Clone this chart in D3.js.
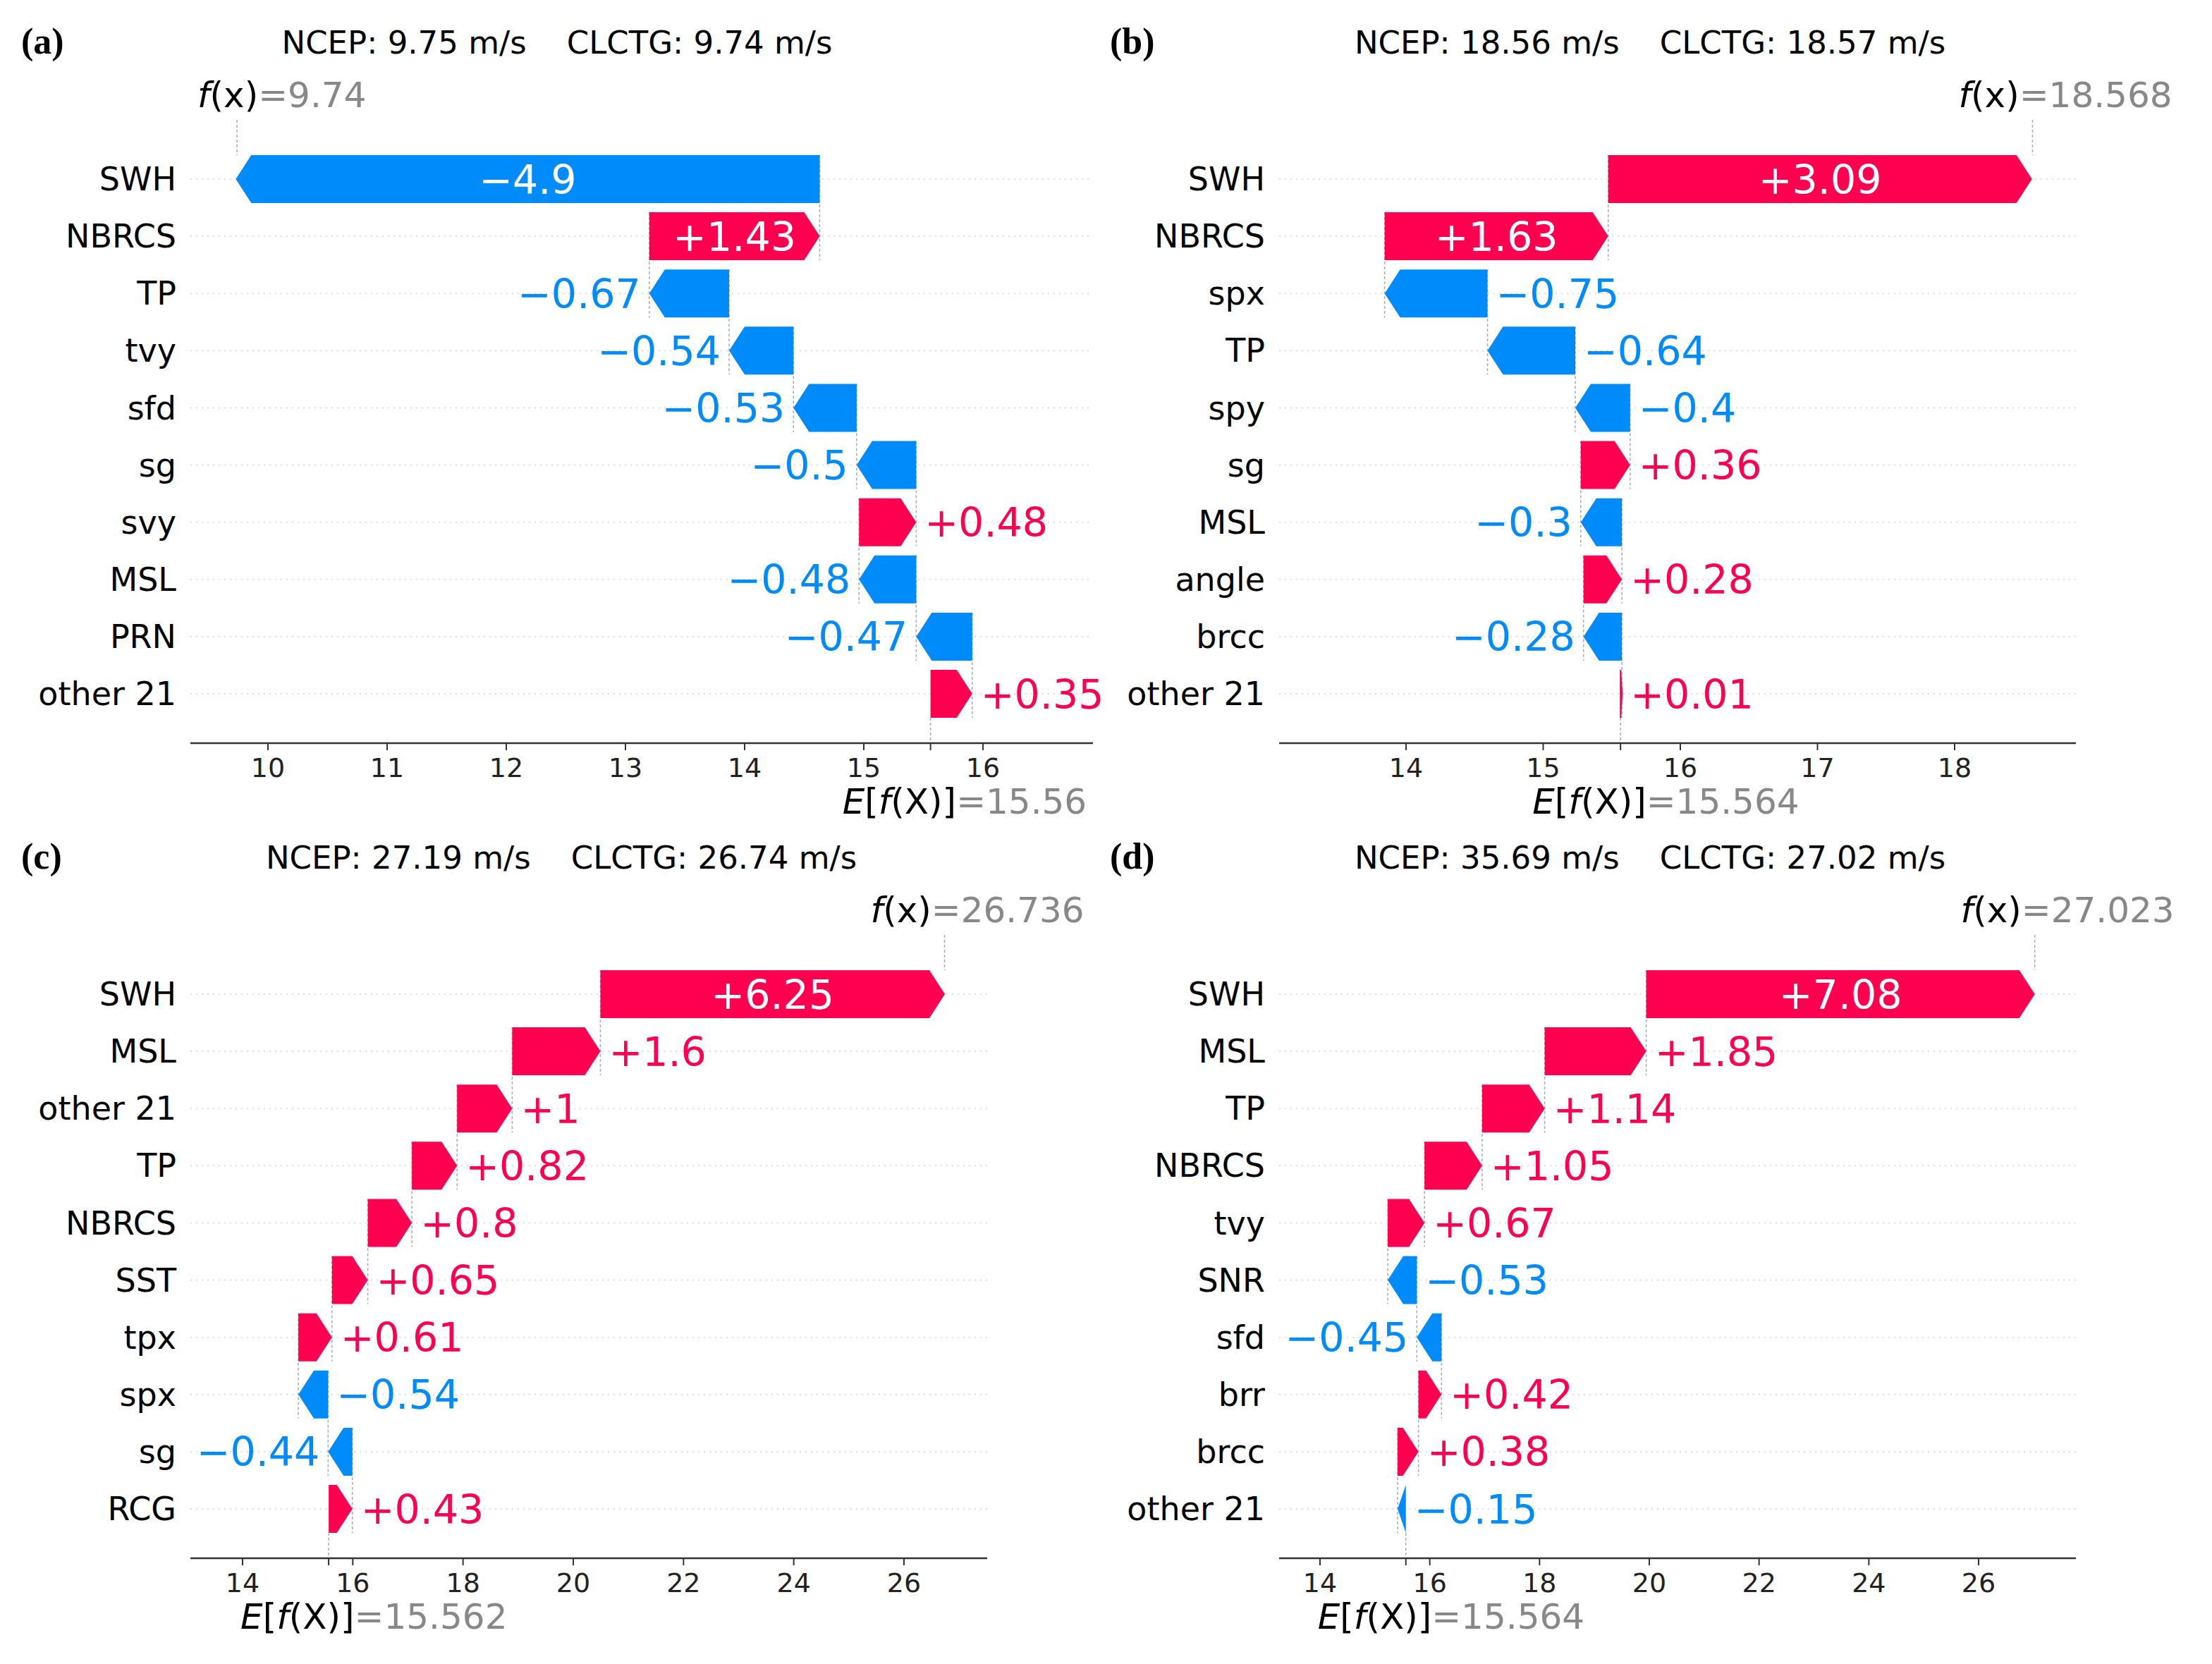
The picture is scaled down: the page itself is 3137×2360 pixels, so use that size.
<!DOCTYPE html>
<meta charset="utf-8">
<style>
body { margin: 0; background: #fff; }
text { font-family: "DejaVu Sans", sans-serif; }
.letter { font-family: "Liberation Serif", serif; font-weight: bold; font-size: 52px; }
.title { font-size: 45px; text-anchor: middle; }
.feat { font-size: 46px; text-anchor: end; }
.tick text { font-size: 38px; }
.val { font-size: 57px; }
.grey { fill: #888; }
</style>
<body>
<script src="https://cdn.jsdelivr.net/npm/d3@7"></script>
<script>

var red = "#ff0051", blue = "#008bfb";

// panel (a)
var featA = ["SWH", "NBRCS", "TP", "tvy", "sfd", "sg", "svy", "MSL", "PRN", "other 21"];
var valA = [-4.9, 1.43, -0.67, -0.54, -0.53, -0.5, 0.48, -0.48, -0.47, 0.35];
var sideA = ["in", "in", "l", "l", "l", "l", "r", "l", "l", "r"];
// panel (b)
var featB = ["SWH", "NBRCS", "spx", "TP", "spy", "sg", "MSL", "angle", "brcc", "other 21"];
var valB = [3.09, 1.63, -0.75, -0.64, -0.4, 0.36, -0.3, 0.28, -0.28, 0.01];
var sideB = ["in", "in", "r", "r", "r", "r", "l", "r", "l", "r"];
// panel (c)
var featC = ["SWH", "MSL", "other 21", "TP", "NBRCS", "SST", "tpx", "spx", "sg", "RCG"];
var valC = [6.25, 1.6, 1, 0.82, 0.8, 0.65, 0.61, -0.54, -0.44, 0.43];
var sideC = ["in", "r", "r", "r", "r", "r", "r", "r", "l", "r"];
// panel (d)
var featD = ["SWH", "MSL", "TP", "NBRCS", "tvy", "SNR", "sfd", "brr", "brcc", "other 21"];
var valD = [7.08, 1.85, 1.14, 1.05, 0.67, -0.53, -0.45, 0.42, 0.38, -0.15];
var sideD = ["in", "r", "r", "r", "r", "r", "l", "r", "r", "r"];

var panels = [
  {letter: "(a)", title: "NCEP: 9.75 m/s    CLCTG: 9.74 m/s", feat: featA, val: valA, side: sideA,
   base: 15.56, fx: 9.74, baseTxt: "15.56", fxTxt: "9.74", ticks: d3.range(10, 17, 1),
   dom: [10, 16], rng: [380, 1394], ax: [270, 1550], top: 0, lx: 30, tx: 790},
  {letter: "(b)", title: "NCEP: 18.56 m/s    CLCTG: 18.57 m/s", feat: featB, val: valB, side: sideB,
   base: 15.564, fx: 18.568, baseTxt: "15.564", fxTxt: "18.568", ticks: d3.range(14, 19, 1),
   dom: [14, 18], rng: [1994, 2772], ax: [1814, 2944], top: 0, lx: 1574, tx: 2340},
  {letter: "(c)", title: "NCEP: 27.19 m/s    CLCTG: 26.74 m/s", feat: featC, val: valC, side: sideC,
   base: 15.562, fx: 26.736, baseTxt: "15.562", fxTxt: "26.736", ticks: d3.range(14, 27, 2),
   dom: [14, 26], rng: [344, 1282], ax: [270, 1400], top: 1156, lx: 30, tx: 796},
  {letter: "(d)", title: "NCEP: 35.69 m/s    CLCTG: 27.02 m/s", feat: featD, val: valD, side: sideD,
   base: 15.564, fx: 27.023, baseTxt: "15.564", fxTxt: "27.023", ticks: d3.range(14, 27, 2),
   dom: [14, 26], rng: [1872, 2806], ax: [1814, 2944], top: 1156, lx: 1574, tx: 2340}
];

var svg = d3.select("body").append("svg")
    .attr("width", 3137)
    .attr("height", 2360);

panels.forEach(function(p) {
  var g = svg.append("g").attr("transform", "translate(0," + p.top + ")");
  var x = d3.scaleLinear().domain(p.dom).range(p.rng);
  var n = p.feat.length;
  var y = d3.scalePoint().domain(d3.range(n)).range([254, 984]);
  var axisY = 1054, bh = 68;

  g.append("text").attr("class", "letter").attr("x", p.lx).attr("y", 76).text(p.letter);
  g.append("text").attr("class", "title").attr("x", p.tx).attr("y", 76)
      .style("white-space", "pre").text(p.title);

  // cumulative starts, from the bottom row up
  var start = new Array(n), acc = p.base;
  for (var i = n - 1; i >= 0; i--) { start[i] = acc; acc += p.val[i]; }

  // row gridlines
  g.selectAll(".grid").data(d3.range(n)).enter().append("line")
      .attr("x1", p.ax[0]).attr("x2", p.ax[1])
      .attr("y1", y).attr("y2", y)
      .attr("stroke", "#ddd").attr("stroke-width", 2).attr("stroke-dasharray", "2,6");

  // connectors
  d3.range(n - 1).forEach(function(i) {
    g.append("line")
        .attr("x1", x(start[i])).attr("x2", x(start[i]))
        .attr("y1", y(i) - bh / 2).attr("y2", y(i + 1) + bh / 2)
        .attr("stroke", "#aaa").attr("stroke-width", 1.5).attr("stroke-dasharray", "4,3");
  });
  g.append("line").attr("x1", x(p.base)).attr("x2", x(p.base))
      .attr("y1", y(n - 1) + bh / 2).attr("y2", axisY)
      .attr("stroke", "#aaa").attr("stroke-width", 1.5).attr("stroke-dasharray", "4,3");
  g.append("line").attr("x1", x(p.fx)).attr("x2", x(p.fx))
      .attr("y1", 170).attr("y2", y(0) - bh / 2)
      .attr("stroke", "#aaa").attr("stroke-width", 1.5).attr("stroke-dasharray", "4,3");

  // arrows
  p.feat.forEach(function(f, i) {
    var v = p.val[i], x0 = x(start[i]), x1 = x(start[i] + v);
    var dir = v >= 0 ? 1 : -1, w = Math.abs(x1 - x0);
    var hl = Math.min(22, w);
    var yc = y(i), t = yc - bh / 2, b = yc + bh / 2;
    var pts = [[x0, t], [x1 - dir * hl, t], [x1, yc], [x1 - dir * hl, b], [x0, b]];
    var col = v >= 0 ? red : blue;
    g.append("path").attr("d", d3.line()(pts) + "Z").attr("fill", col)
        .attr("stroke", col).attr("stroke-width", w < 3 ? 2 : 0);

    g.append("text").attr("class", "feat").attr("x", p.lx === 30 ? 250 : 1794)
        .attr("y", yc).attr("dy", "0.35em").text(f);

    var s = (v >= 0 ? "+" : "\u2212") + d3.format("")(Math.abs(v));
    var lab = g.append("text").attr("class", "val").attr("y", yc).attr("dy", "0.36em").text(s);
    if (p.side[i] === "in") {
      lab.attr("x", (x0 + x1) / 2).attr("text-anchor", "middle").attr("fill", "#fff");
    } else if (p.side[i] === "r") {
      lab.attr("x", Math.max(x0, x1) + 12).attr("text-anchor", "start").attr("fill", col);
    } else {
      lab.attr("x", Math.min(x0, x1) - 12).attr("text-anchor", "end").attr("fill", col);
    }
  });

  // axis
  var ticks = p.ticks.concat([p.base]);
  var axis = g.append("g").attr("class", "tick-axis").attr("transform", "translate(0," + axisY + ")");
  axis.append("line").attr("x1", p.ax[0]).attr("x2", p.ax[1]).attr("stroke", "#333").attr("stroke-width", 2.5);
  var tk = axis.selectAll(".tick").data(ticks).enter().append("g").attr("class", "tick")
      .attr("transform", function(d) { return "translate(" + x(d) + ",0)"; });
  tk.append("line").attr("y2", 10).attr("stroke", "#333").attr("stroke-width", 2);
  tk.filter(function(d, i) { return i < p.ticks.length; }).append("text")
      .attr("y", 48).attr("text-anchor", "middle").attr("fill", "#222").text(function(d) { return d; });

  // f(x) and E[f(X)] labels
  var ft = g.append("text").attr("y", 152).attr("font-size", 50);
  ft.append("tspan").attr("font-style", "italic").text("f");
  ft.append("tspan").text("(x)");
  ft.append("tspan").attr("class", "grey").text("=" + p.fxTxt);
  var fw = ft.node().getBBox().width;
  ft.attr("x", Math.max(280, Math.min(x(p.fx) - 105, 3096 - fw)));

  var et = g.append("text").attr("y", 1154).attr("font-size", 50);
  et.append("tspan").attr("font-style", "italic").text("E");
  et.append("tspan").text("[");
  et.append("tspan").attr("font-style", "italic").text("f");
  et.append("tspan").text("(X)]");
  et.append("tspan").attr("class", "grey").text("=" + p.baseTxt);
  var ew = et.node().getBBox().width;
  et.attr("x", Math.min(x(p.base) - 125, p.ax[1] - ew));
});

</script>
</body>
